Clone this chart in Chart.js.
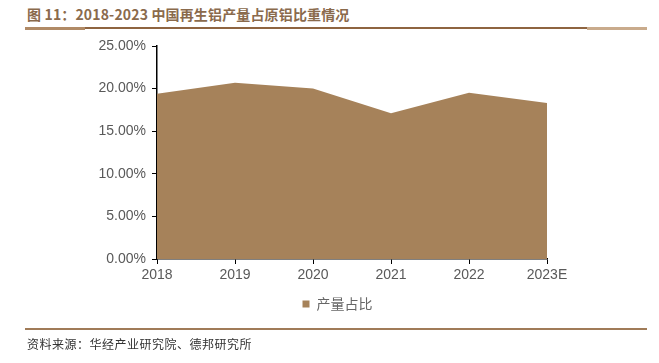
<!DOCTYPE html>
<html>
<head>
<meta charset="utf-8">
<script src="https://cdn.jsdelivr.net/npm/chart.js@4"></script>
<style>
  html,body{margin:0;padding:0;background:#fff;}
  #wrap{position:relative;width:659px;height:363px;overflow:hidden;}
  #title{position:absolute;left:27px;top:4px;font:bold 14px "Noto Sans CJK SC","Liberation Sans",sans-serif;color:#8a6a4c;white-space:nowrap;letter-spacing:0.15px;}
  .ln{position:absolute;}
  #source{position:absolute;left:27px;top:335px;font:12px "Noto Sans CJK SC",sans-serif;color:#333;white-space:nowrap;letter-spacing:0.5px;}
  canvas{position:absolute;left:0;top:0;}
</style>
</head>
<body>
<div id="wrap">
  <div id="title">图 11：2018-2023 中国再生铝产量占原铝比重情况</div>
  <div class="ln" style="left:25px;top:27px;width:622px;height:2px;background:#8e6440;"></div>
  <div class="ln" style="left:25px;top:27px;width:60px;height:3px;background:#b08a66;"></div>
  <div class="ln" style="left:587px;top:27px;width:60px;height:3px;background:#c9ab8c;"></div>
  <canvas id="c" width="659" height="363"></canvas>
  <div class="ln" style="left:25px;top:328px;width:622px;height:2px;background:#a07b58;"></div>
  <div id="source">资料来源：华经产业研究院、德邦研究所</div>
</div>
<script>
const categories = ["2018","2019","2020","2021","2022","2023E"];
const shareValues = [19.4, 20.7, 20.0, 17.1, 19.5, 18.3];
const seriesName = "产量占比";
const yTicks = [0,5,10,15,20,25];

const ctx = document.getElementById('c').getContext('2d');
new Chart(ctx, {
  type: 'line',
  data: {
    labels: categories,
    datasets: [{
      label: seriesName,
      data: shareValues,
      fill: 'origin',
      backgroundColor: '#a6825a',
      borderColor: '#a6825a',
      borderWidth: 0,
      pointRadius: 0,
      tension: 0
    }]
  },
  options: {
    responsive: false,
    animation: false,
    layout: {padding: {top: 46, right: 0, bottom: 42, left: 16}},
    plugins: {
      tooltip: {enabled: false},
      legend: {
        position: 'bottom',
        labels: {
          boxWidth: 7, boxHeight: 7, padding: 4,
          color: '#666',
          font: {family: '"Noto Sans CJK SC", sans-serif', size: 14}
        }
      }
    },
    scales: {
      x: {
        offset: false,
        grid: {display: true, drawOnChartArea: false, drawTicks: true, tickLength: 5, color: '#000'},
        border: {display: true, color: '#000', width: 1.5},
        ticks: {color: '#595959', padding: 3, maxRotation: 0, font: {family: '"Liberation Sans", Arial, sans-serif', size: 14}},
        afterFit: s => { s.height = 34; }
      },
      y: {
        min: 0, max: 25,
        afterBuildTicks: s => { s.ticks = yTicks.map(v => ({value: v})); },
        grid: {display: true, drawOnChartArea: false, drawTicks: true, tickLength: 5, color: '#000'},
        border: {display: true, color: '#000', width: 1.5},
        ticks: {color: '#595959', padding: 6, font: {family: '"Liberation Sans", Arial, sans-serif', size: 14},
          callback: v => v.toFixed(2) + '%'},
        afterFit: s => { s.width = 141; }
      },
      spacer: {
        position: 'right',
        min: 0, max: 1,
        grid: {display: false},
        border: {display: false},
        ticks: {display: false},
        afterFit: s => { s.width = 112; }
      }
    }
  }
});
</script>
</body>
</html>
